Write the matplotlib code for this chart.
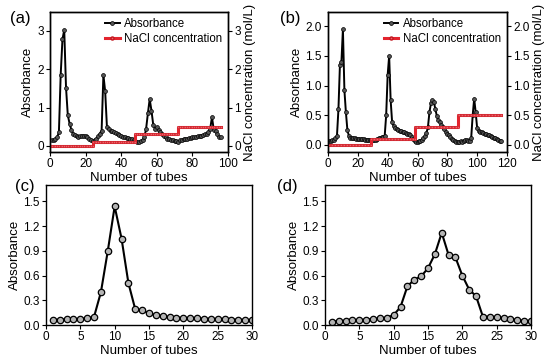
import numpy as np
from matplotlib import pyplot as plt

plt.rcParams['font.family'] = ['Liberation Sans', 'DejaVu Sans']
plt.rcParams['font.size'] = 8

# (a) absorbance, tubes 1..96
abs_a = [0.15, 0.15, 0.18, 0.22, 0.35, 1.85, 2.78, 3.02, 1.52, 0.80,
         0.58, 0.42, 0.32, 0.28, 0.25, 0.24, 0.25, 0.27, 0.27, 0.25,
         0.22, 0.18, 0.15, 0.12, 0.14, 0.18, 0.25, 0.32, 0.40, 1.85,
         1.42, 0.48, 0.45, 0.40, 0.38, 0.35, 0.33, 0.30, 0.28, 0.26,
         0.24, 0.22, 0.21, 0.20, 0.19, 0.17, 0.15, 0.12, 0.10, 0.10,
         0.12, 0.15, 0.22, 0.45, 0.85, 1.22, 0.92, 0.55, 0.45, 0.48,
         0.42, 0.36, 0.30, 0.26, 0.22, 0.19, 0.17, 0.15, 0.14, 0.13,
         0.12, 0.11, 0.14, 0.16, 0.17, 0.18, 0.19, 0.20, 0.21, 0.22,
         0.23, 0.24, 0.25, 0.26, 0.27, 0.28, 0.30, 0.32, 0.36, 0.45,
         0.75, 0.42, 0.38, 0.30, 0.22, 0.22]
# (a) NaCl steps
nacl_a_edges = [0, 24, 48, 72, 96]
nacl_a_levels = [0.0, 0.1, 0.3, 0.5]

# (b) absorbance, tubes 1..116
abs_b = [0.07, 0.07, 0.08, 0.09, 0.12, 0.15, 0.60, 1.35, 1.40, 1.95,
         0.92, 0.55, 0.25, 0.15, 0.12, 0.11, 0.11, 0.11, 0.10, 0.10,
         0.10, 0.10, 0.10, 0.10, 0.09, 0.09, 0.09, 0.09, 0.09, 0.08,
         0.08, 0.09, 0.10, 0.11, 0.12, 0.13, 0.14, 0.15, 0.50, 1.18,
         1.50, 0.75, 0.38, 0.32, 0.28, 0.26, 0.25, 0.24, 0.23, 0.22,
         0.21, 0.20, 0.19, 0.18, 0.16, 0.13, 0.10, 0.07, 0.05, 0.05,
         0.06, 0.07, 0.09, 0.12, 0.15, 0.20, 0.30, 0.55, 0.70, 0.75,
         0.72, 0.60, 0.48, 0.42, 0.38, 0.34, 0.30, 0.26, 0.22, 0.19,
         0.16, 0.13, 0.10, 0.08, 0.06, 0.05, 0.05, 0.05, 0.06, 0.05,
         0.07, 0.09, 0.08, 0.06, 0.07, 0.12, 0.50, 0.78, 0.55, 0.28,
         0.24, 0.22, 0.21, 0.20, 0.19, 0.18, 0.17, 0.16, 0.15, 0.14,
         0.12, 0.11, 0.10, 0.08, 0.07, 0.06]
nacl_b_edges = [0, 29, 58, 87, 116]
nacl_b_levels = [0.0, 0.1, 0.3, 0.5]

# (c) and (d), tubes 1..30
abs_c = [0.06, 0.065, 0.07, 0.07, 0.075, 0.08, 0.10, 0.40, 0.90, 1.44,
         1.05, 0.51, 0.19, 0.18, 0.14, 0.12, 0.11, 0.095, 0.09, 0.085,
         0.08, 0.08, 0.075, 0.075, 0.07, 0.07, 0.065, 0.065, 0.06, 0.06]
abs_d = [0.04, 0.05, 0.05, 0.055, 0.06, 0.065, 0.075, 0.08, 0.09, 0.12,
         0.22, 0.47, 0.55, 0.59, 0.69, 0.86, 1.12, 0.85, 0.82, 0.60,
         0.43, 0.35, 0.10, 0.10, 0.095, 0.085, 0.07, 0.06, 0.05, 0.045]

RED = '#e3242e'


def style(ax):
    ax.tick_params(direction='out', length=3, width=0.8, pad=1.5, labelsize=8.5)
    for s in ax.spines.values():
        s.set_linewidth(1.0)


def step_points(edges, levels):
    xs, ys = [], []
    for i, lv in enumerate(levels):
        seg = np.arange(edges[i], edges[i + 1] + 1)
        xs.extend(seg)
        ys.extend([lv] * len(seg))
    return xs, ys


def top_panel(ax, absb, edges, levels, xlim, ylim, xticks, yticks, fmt,
              label, lab_x):
    x = np.arange(1, len(absb) + 1)
    ax.plot(x, absb, '-', color='black', lw=1.4, marker='o', ms=2.8,
            mfc='#555555', mec='black', mew=0.5, label='Absorbance', zorder=3)
    nx, ny = step_points(edges, levels)
    ax2 = ax.twinx()
    ax2.plot(nx, ny, '-', color=RED, lw=2.2, marker='o', ms=1.6,
             mfc='#f06068', mec='#c01820', mew=0.3)
    ax.plot([], [], '-', color=RED, lw=2.2, marker='o', ms=2.2,
            mfc='#f06068', mec='#c01820', label='NaCl concentration')
    for a in (ax, ax2):
        a.set_xlim(*xlim)
        a.set_ylim(*ylim)
        style(a)
    ax.set_xticks(xticks)
    ax.set_yticks(yticks)
    ax.set_yticklabels([fmt.format(v) for v in yticks])
    ax2.set_yticks(yticks)
    ax2.set_yticklabels([fmt.format(v) for v in yticks])
    ax.set_xlabel('Number of tubes', fontsize=9.5, labelpad=1)
    ax.set_ylabel('Absorbance', fontsize=9.5, labelpad=2)
    ax2.set_ylabel('NaCl concentration (mol/L)', fontsize=9.5, labelpad=2)
    ax.legend(loc='upper right', frameon=False, fontsize=8.3, handlelength=1.3,
              borderaxespad=0.1, labelspacing=0.3, handletextpad=0.4)
    ax.text(lab_x, 0.95, label, transform=ax.transAxes, fontsize=12,
            ha='left', va='center')


def bottom_panel(ax, absb, label, lab_x):
    x = np.arange(1, len(absb) + 1)
    ax.plot(x, absb, '-', color='black', lw=1.5, marker='o', ms=4.6,
            mfc='#b4b4b4', mec='black', mew=0.9)
    ax.set_xlim(0, 30)
    ax.set_ylim(0, 1.7)
    ax.set_xticks(np.arange(0, 31, 5))
    ax.set_yticks([0.0, 0.3, 0.6, 0.9, 1.2, 1.5])
    ax.set_yticklabels(['0.0', '0.3', '0.6', '0.9', '1.2', '1.5'])
    style(ax)
    ax.set_xlabel('Number of tubes', fontsize=9.5, labelpad=1)
    ax.set_ylabel('Absorbance', fontsize=9.5, labelpad=2)
    ax.text(lab_x, 0.99, label, transform=ax.transAxes, fontsize=12,
            ha='left', va='center')


fig = plt.figure(figsize=(5.5, 3.61), dpi=100)
W, H = 550, 361
ax_a = fig.add_axes([50 / W, 1 - 152 / H, 178 / W, 140 / H])
ax_b = fig.add_axes([328 / W, 1 - 152 / H, 179 / W, 140 / H])
ax_c = fig.add_axes([46 / W, 1 - 325 / H, 206 / W, 140 / H])
ax_d = fig.add_axes([325 / W, 1 - 325 / H, 206 / W, 140 / H])

top_panel(ax_a, abs_a, nacl_a_edges, nacl_a_levels, (0, 100), (-0.16, 3.49),
          np.arange(0, 101, 20), [0, 1, 2, 3], '{:.0f}', '(a)', -0.225)
top_panel(ax_b, abs_b, nacl_b_edges, nacl_b_levels, (0, 119), (-0.12, 2.24),
          np.arange(0, 121, 20), [0.0, 0.5, 1.0, 1.5, 2.0], '{:.1f}', '(b)',
          -0.27)
bottom_panel(ax_c, abs_c, '(c)', -0.15)
bottom_panel(ax_d, abs_d, '(d)', -0.235)

fig.savefig('out.png', dpi=100)
